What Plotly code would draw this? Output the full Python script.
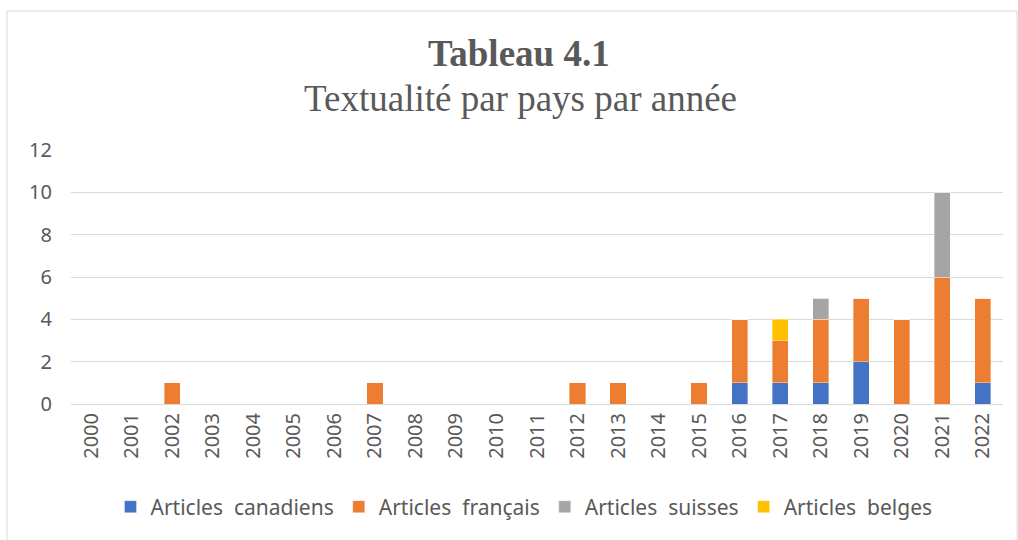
import plotly.graph_objects as go

years = [str(y) for y in range(2000, 2023)]
canadiens = [0,0,0,0,0,0,0,0,0,0,0,0,0,0,0,0,1,1,1,2,0,0,1]
francais  = [0,0,1,0,0,0,0,1,0,0,0,0,1,1,0,1,3,2,3,3,4,6,4]
suisses   = [0,0,0,0,0,0,0,0,0,0,0,0,0,0,0,0,0,0,1,0,0,4,0]
belges    = [0,0,0,0,0,0,0,0,0,0,0,0,0,0,0,0,0,1,0,0,0,0,0]

series = [
    ("Articles  canadiens", canadiens, "#4472C4"),
    ("Articles  français", francais, "#ED7D31"),
    ("Articles  suisses", suisses, "#A5A5A5"),
    ("Articles  belges", belges, "#FFC000"),
]

fig = go.Figure()
for name, vals, col in series:
    fig.add_trace(go.Bar(x=years, y=vals, name=name,
                         marker=dict(color=col, line=dict(width=0.6, color="rgba(255,255,255,0.6)"))))

L, R, T, B = 71, 15, 150, 136
W, H = 1018, 540
pw, ph = W - L - R, H - T - B

def px(x):
    return (x - L) / pw

def py(y):
    return (H - B - y) / ph

serif = "Liberation Serif, Times New Roman, serif"
fig.update_layout(
    width=W, height=H,
    barmode="stack", bargap=0.6,
    margin=dict(l=L, r=R, t=T, b=B),
    plot_bgcolor="white", paper_bgcolor="white",
    font=dict(family="Noto Sans, Open Sans, sans-serif", color="#595959", size=18),
    showlegend=True,
    legend=dict(orientation="h", x=px(524), xanchor="center", y=py(507), yanchor="middle",
                font=dict(size=21, color="#595959"), traceorder="normal",
                itemwidth=30),
    xaxis=dict(type="category", tickangle=-90, showgrid=False, showline=False, ticks="",
               tickfont=dict(size=20, color="#595959"), ticklabelstandoff=4),
    yaxis=dict(range=[0, 12], dtick=2, showgrid=True, gridcolor="#d9d9d9", gridwidth=1,
               zeroline=True, zerolinecolor="#d9d9d9", zerolinewidth=1, showline=False,
               ticks="", tickfont=dict(size=20, color="#595959"), ticklabelstandoff=18),
    annotations=[
        dict(text="<b>Tableau 4.1</b>", x=px(519), y=py(53), xref="paper", yref="paper",
             xanchor="center", yanchor="middle",
             showarrow=False, font=dict(family=serif, size=37, color="#595959")),
        dict(text="Textualité par pays par année", x=px(520), y=py(99), xref="paper", yref="paper",
             xanchor="center", yanchor="middle",
             showarrow=False, font=dict(family=serif, size=37, color="#595959")),
    ],
    shapes=[dict(type="rect", xref="paper", yref="paper",
                 x0=px(7), x1=px(1017), y0=py(560), y1=py(11),
                 line=dict(color="#d9d9d9", width=1), fillcolor="rgba(0,0,0,0)", layer="below")],
)

fig.write_html("out.html", config={"displayModeBar": False},
               post_script="document.body.style.margin='0';")
